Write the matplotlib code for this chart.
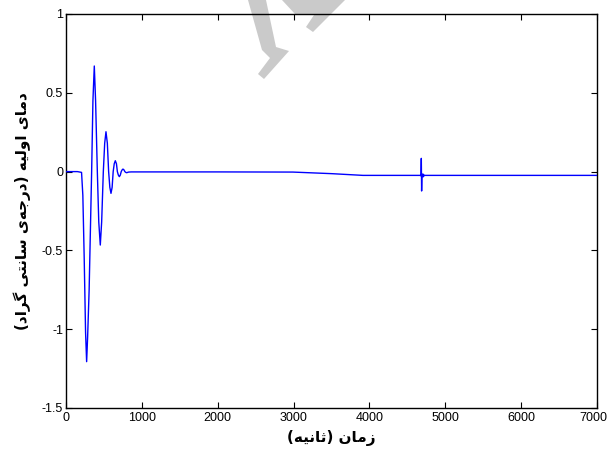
import matplotlib
matplotlib.use("Agg")
import matplotlib.pyplot as plt
from matplotlib.patches import Polygon
from matplotlib.transforms import ScaledTranslation

# ---------------- data ----------------
time = [0, 150, 205, 222, 240, 258, 272, 285, 305, 338, 355, 373,
        390, 413, 432, 452, 470, 492, 510, 527, 545, 562, 578, 593,
        608, 622, 636, 650, 665, 677, 690, 703, 716, 728, 740, 751,
        764, 776, 788, 800, 825, 860, 1000, 2000, 2990, 3500, 3915,
        4680, 4684, 4688, 4692, 4700, 5000, 6000, 7000]
temp = [0.0, 0.0, -0.005, -0.15, -0.55, -1.02, -1.206, -1.05, -0.75, 0.0,
        0.45, 0.67, 0.45, 0.0, -0.32, -0.466, -0.32, 0.0, 0.18, 0.253,
        0.18, 0.0, -0.10, -0.138, -0.10, 0.0, 0.05, 0.069, 0.05, 0.0,
        -0.022, -0.032, -0.022, 0.0, 0.011, 0.016, 0.011, 0.0, -0.005,
        -0.007, -0.003, -0.002, -0.002, -0.002, -0.003, -0.013, -0.024,
        -0.024, 0.084, -0.123, -0.024, -0.024, -0.024, -0.024, -0.024]
marker_t = [4695]
marker_v = [-0.024]

xticks = [0, 1000, 2000, 3000, 4000, 5000, 6000, 7000]
yticks = [-1.5, -1, -0.5, 0, 0.5, 1]
ytick_labels = ["-1.5", "-1", "-0.5", "0", "0.5", "1"]
xlabel_text = "زمان (ثانیه)"
ylabel_text = "دمای اولیه (درجه\u200cی سانتی گراد)"

# ---------------- minimal Persian shaping ----------------
FORMS = {
    'ا': ('\uFE8D', '\uFE8E', None, None),
    'د': ('\uFEA9', '\uFEAA', None, None),
    'ر': ('\uFEAD', '\uFEAE', None, None),
    'ز': ('\uFEAF', '\uFEB0', None, None),
    'و': ('\uFEED', '\uFEEE', None, None),
    'م': ('\uFEE1', '\uFEE2', '\uFEE3', '\uFEE4'),
    'ی': ('\uFEEF', '\uFEF0', '\uFEF3', '\uFEF4'),
    'ل': ('\uFEDD', '\uFEDE', '\uFEDF', '\uFEE0'),
    'ه': ('\uFEE9', '\uFEEA', '\uFEEB', '\uFEEC'),
    'ج': ('\uFE9D', '\uFE9E', '\uFE9F', '\uFEA0'),
    'س': ('\uFEB1', '\uFEB2', '\uFEB3', '\uFEB4'),
    'ن': ('\uFEE5', '\uFEE6', '\uFEE7', '\uFEE8'),
    'ت': ('\uFE95', '\uFE96', '\uFE97', '\uFE98'),
    'ث': ('\uFE99', '\uFE9A', '\uFE9B', '\uFE9C'),
    'گ': ('\uFB92', '\uFB93', '\uFB94', '\uFB95'),
}


def dual(c):
    return c in FORMS and FORMS[c][2] is not None


def joinable(c):
    return c in FORMS


def shape(s):
    out = []
    n = len(s)
    for i, c in enumerate(s):
        if c == '\u200c':
            continue
        if c not in FORMS:
            out.append(c)
            continue
        prev = s[i - 1] if i > 0 else ''
        nxt = s[i + 1] if i + 1 < n else ''
        jp = dual(prev)
        jn = dual(c) and joinable(nxt)
        iso, fin, ini, med = FORMS[c]
        if jp and jn:
            g = med
        elif jp:
            g = fin
        elif jn:
            g = ini
        else:
            g = iso
        out.append(g)
    vis = ''.join(reversed(out))
    vis = vis.translate(str.maketrans({'(': ')', ')': '('}))
    return vis


# ---------------- figure ----------------
W, H = 609, 454
fig = plt.figure(figsize=(W / 100, H / 100), dpi=100)
fig.patch.set_facecolor('white')

ax = fig.add_axes([66 / W, 1 - 408 / H, (597 - 66) / W, (408 - 14) / H])
ax.set_facecolor('none')

ax.plot(time, temp, color='#0000ff', lw=1.0, zorder=3)
ax.plot(marker_t, marker_v, '.', color='#0000ff', ms=4, zorder=3)

ax.set_xlim(0, 7000)
ax.set_ylim(-1.5, 1)
ax.set_xticks(xticks)
ax.set_xticklabels([str(v) for v in xticks])
ax.set_yticks(yticks)
ax.set_yticklabels(ytick_labels)

ax.tick_params(direction='in', length=4, width=0.8, top=True, right=True,
               pad=2, colors='black')
ax.tick_params(axis='x', pad=3)
for sp in ax.spines.values():
    sp.set_linewidth(1.0)
    sp.set_color('black')

tickfont = 'Liberation Sans'
for lab in ax.get_xticklabels() + ax.get_yticklabels():
    lab.set_fontfamily(tickfont)
    lab.set_fontsize(9)

# keep the last x tick label inside the canvas (as in the reference)
last_tick = ax.xaxis.get_major_ticks()[-1]
last_tick.label1.set_horizontalalignment('right')
last_tick.label1.set_transform(last_tick.label1.get_transform() +
                               ScaledTranslation(10 / 100, 0,
                                                 fig.dpi_scale_trans))

ax.set_xlabel(shape(xlabel_text), fontfamily='DejaVu Sans', fontweight='bold',
              fontsize=11, labelpad=4)
ax.set_ylabel(shape(ylabel_text), fontfamily='DejaVu Sans', fontweight='bold',
              fontsize=11, labelpad=8)

# faint watermark (decoration)
def px(pts):
    return [(x / W, 1 - y / H) for x, y in pts]

wm = '#cacaca'
fig.patches.append(Polygon(px([(248, 0), (266, 0), (276, 47), (289, 51),
                               (264, 79), (258, 74), (270, 58), (262, 50)]),
                           closed=True, transform=fig.transFigure,
                           facecolor=wm, edgecolor='none', zorder=-1))
fig.patches.append(Polygon(px([(282, 0), (345, 0), (313, 32), (306, 27),
                               (314, 15), (295, 14)]),
                           closed=True, transform=fig.transFigure,
                           facecolor=wm, edgecolor='none', zorder=-1))

fig.savefig('out.png', dpi=100, facecolor='white')
